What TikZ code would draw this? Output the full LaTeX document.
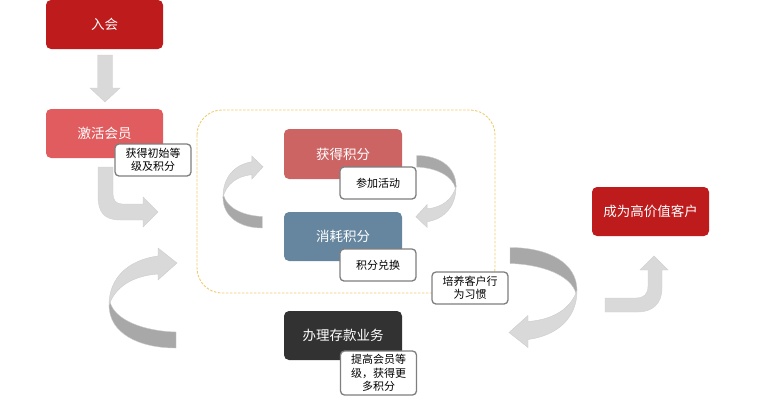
\documentclass[tikz,border=0pt]{standalone}
\usepackage{fontspec}
\newfontfamily\cjk{Noto Sans CJK SC}
\usepackage{tikz}
\definecolor{deepred}{HTML}{BE1B1C}
\definecolor{softred}{HTML}{E15C5F}
\definecolor{dullred}{HTML}{CD6464}
\definecolor{steel}{HTML}{66869F}
\definecolor{charcoal}{HTML}{323232}
\definecolor{notegray}{HTML}{7F7F7F}
\definecolor{arrowlight}{HTML}{D9D9D9}
\definecolor{arrowdark}{HTML}{A8A8A8}
\definecolor{dashyellow}{HTML}{EECB6E}
\tikzset{
  box/.style={rounded corners=5pt, minimum width=117pt, minimum height=49pt, inner sep=0pt,
    text=white, font=\cjk\fontsize{13.5}{15}\selectfont},
  note/.style={draw=notegray, line width=1.3pt, fill=white, rounded corners=4pt,
    minimum width=76pt, minimum height=32pt, inner sep=1pt, align=center,
    font=\cjk\fontsize{11}{13.5}\selectfont},
  flatarrow/.style={fill=arrowlight, draw=white!82!black, line width=.4pt},
  ribbon/.pic={
    \filldraw[fill=arrowdark, draw=white!80!black, line width=.4pt] (-33,4) .. controls (-28,22) and (0,33) .. (33,34) -- (33,50) .. controls (-5,50) and (-34,35) .. (-34,7) -- cycle;
    \filldraw[fill=arrowlight, draw=white!80!black, line width=.4pt] (15,-42) .. controls (-15,-38) and (-34,-20) .. (-34,7) .. controls (-28,-10) and (-12,-22) .. (15,-24) -- (15,-18) -- (34,-35) -- (15,-50) -- cycle;
  }
}
\begin{document}
\begin{tikzpicture}[x=1pt,y=-1pt]
  \useasboundingbox (0,0) rectangle (757,400);

  % loop of points
  \draw[dashyellow, line width=.9pt, dash pattern=on 2.5pt off 1.5pt, rounded corners=25pt] (197,110) rectangle (495,293);

  % block arrows
  \filldraw[flatarrow] (97.5,55) -- (112.5,55) -- (112.5,88) -- (120,88) -- (105,102) -- (90,88) -- (97.5,88) -- cycle;
  \filldraw[flatarrow] (98,167) -- (98,196) .. controls (98,212) and (104,220) .. (120,220) -- (143,220) -- (143,227) -- (158,212) -- (143,197) -- (143,204) -- (122,204) .. controls (116,204) and (113,200) .. (113,194) -- (113,167) -- cycle;
  \filldraw[flatarrow] (605,298) -- (636,298) .. controls (644,298) and (648,294) .. (648,286) -- (648,270) -- (640,270) -- (654,256) -- (668,270) -- (662,270) -- (662,288) .. controls (662,304) and (652,312) .. (638,312) -- (605,312) -- cycle;

  \pic at (143,298) {ribbon};
  \pic[rotate=180] at (543,297.5) {ribbon};
  \pic[xscale=.59, yscale=.72] at (243,192) {ribbon};
  \pic[rotate=180, xscale=.59, yscale=.72] at (436,191.5) {ribbon};

  % steps
  \node[box, fill=deepred] (join) at (104.5,24.5) {入会};
  \node[box, fill=softred] (activate) at (104.5,133.5) {激活会员};
  \node[note] (initial) at (153,160) {获得初始等\\级及积分};

  \node[box, fill=dullred, minimum width=118pt, minimum height=50pt] (earn) at (343,154) {获得积分};
  \node[note] (events) at (378,183) {参加活动};
  \node[box, fill=steel, minimum width=118pt] (spend) at (343,236.5) {消耗积分};
  \node[note] (exchange) at (378,265) {积分兑换};
  \node[note] (habit) at (470,288) {培养客户行\\为习惯};

  \node[box, fill=charcoal, minimum width=118pt] (deposit) at (343,335.5) {办理存款业务};
  \node[note, minimum height=44pt] (upgrade) at (378.5,373) {提高会员等\\级，获得更\\多积分};

  \node[box, fill=deepred] (valuable) at (650.5,211.5) {成为高价值客户};
\end{tikzpicture}
\end{document}
